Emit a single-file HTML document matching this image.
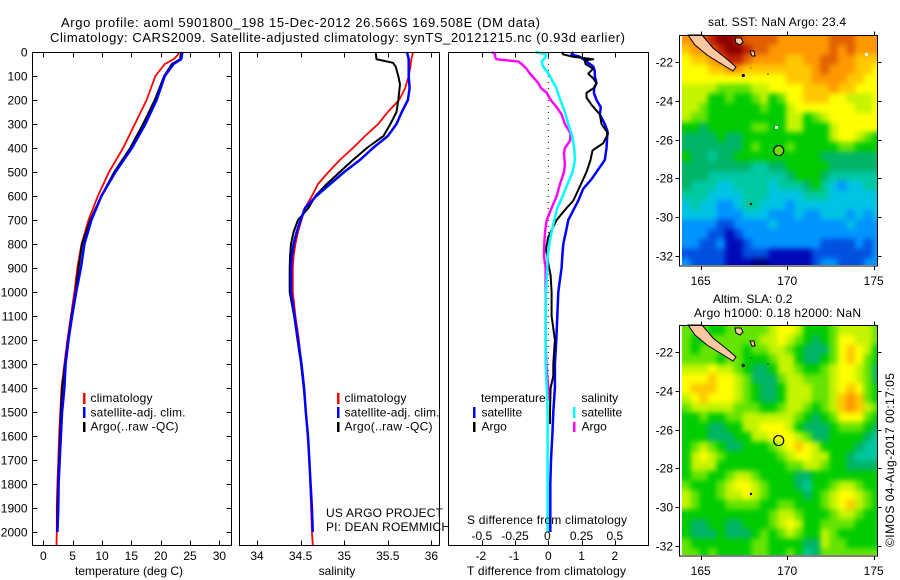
<!DOCTYPE html>
<html>
<head>
<meta charset="utf-8">
<title>Argo profile 5901800_198</title>
<style>
html,body{margin:0;padding:0;background:#fff;}
svg{display:block;}
text{font-family:"Liberation Sans",sans-serif;font-size:12px;fill:#000;}
</style>
</head>
<body>
<svg id="fig" xmlns="http://www.w3.org/2000/svg" width="900" height="580" viewBox="0 0 900 580">
  <defs>
    <filter id="soften" filterUnits="userSpaceOnUse" x="640" y="0" width="260" height="580" color-interpolation-filters="sRGB">
      <feGaussianBlur stdDeviation="2.6"/>
    </filter>
    <clipPath id="clip-sst"><rect x="682" y="35.5" width="195" height="229.5"/></clipPath>
    <clipPath id="clip-sla"><rect x="682" y="325.5" width="195" height="229.5"/></clipPath>
  </defs>
  <rect x="0" y="0" width="900" height="580" fill="#fff"/>
  <g id="maps"></g>
  <g id="profiles"></g>
  <g id="axes"></g>

  <text x="61" y="27" style="font-size:13px" textLength="479" lengthAdjust="spacing">Argo profile: aoml 5901800_198 15-Dec-2012 26.566S 169.508E (DM data)</text>
  <text x="50" y="42" style="font-size:13px" textLength="575" lengthAdjust="spacing">Climatology: CARS2009. Satellite-adjusted climatology: synTS_20121215.nc (0.93d earlier)</text>

  <text x="129" y="575" text-anchor="middle">temperature (deg C)</text>
  <text x="337" y="575" text-anchor="middle">salinity</text>
  <text x="546.5" y="575" text-anchor="middle" textLength="159" lengthAdjust="spacing">T difference from climatology</text>
  <text x="547" y="524" text-anchor="middle" textLength="160" lengthAdjust="spacing">S difference from climatology</text>

  <g>
    <rect x="83" y="393" width="2.5" height="11" fill="#f00"/>
    <rect x="83" y="407" width="2.5" height="11" fill="#00f"/>
    <rect x="83" y="422" width="2.5" height="10" fill="#000"/>
    <text x="90.5" y="402" textLength="62" lengthAdjust="spacing">climatology</text>
    <text x="90.5" y="416.5" textLength="95" lengthAdjust="spacing">satellite-adj. clim.</text>
    <text x="90.5" y="430.5" textLength="88" lengthAdjust="spacing">Argo(..raw -QC)</text>
  </g>
  <g>
    <rect x="337" y="393" width="2.5" height="11" fill="#f00"/>
    <rect x="337" y="407" width="2.5" height="11" fill="#00f"/>
    <rect x="337" y="422" width="2.5" height="10" fill="#000"/>
    <text x="344.5" y="402" textLength="62" lengthAdjust="spacing">climatology</text>
    <text x="344.5" y="416.5" textLength="95" lengthAdjust="spacing">satellite-adj. clim.</text>
    <text x="344.5" y="430.5" textLength="88" lengthAdjust="spacing">Argo(..raw -QC)</text>
  </g>
  <g>
    <text x="481" y="402">temperature</text>
    <text x="481.5" y="416.5">satellite</text>
    <text x="481.5" y="430.5">Argo</text>
    <rect x="473" y="407" width="2.5" height="11" fill="#00f"/>
    <rect x="473" y="422" width="2.5" height="10" fill="#000"/>
    <text x="581.5" y="402">salinity</text>
    <text x="581.5" y="416.5">satellite</text>
    <text x="581.5" y="430.5">Argo</text>
    <rect x="573" y="407" width="2.5" height="11" fill="#0ff"/>
    <rect x="573" y="422" width="2.5" height="10" fill="#f0f"/>
  </g>

  <text x="326" y="517" textLength="117" lengthAdjust="spacing">US ARGO PROJECT</text>
  <text x="326" y="531" textLength="124" lengthAdjust="spacing">PI: DEAN ROEMMICH</text>

  <text x="777" y="26" text-anchor="middle" textLength="138" lengthAdjust="spacing">sat. SST: NaN  Argo: 23.4</text>
  <text x="713" y="303">Altim. SLA: 0.2</text>
  <text x="694" y="317" textLength="167" lengthAdjust="spacing">Argo h1000: 0.18 h2000: NaN</text>
  <text transform="translate(894,547) rotate(-90)" textLength="174" lengthAdjust="spacing">©IMOS 04-Aug-2017 00:17:05</text>
</svg>

<script>
// ---------- temperature panel data (depth in m, deg C) ----------
const tempDepths = [0,10,30,50,100,200,300,400,500,600,700,800,900,1000,1100,1200,1300,1400,1500,1600,1700,1800,1900,2000,2055];
const tempClim   = [23.1,23.0,22.2,20.7,19.1,17.6,15.6,13.6,11.2,9.3,7.7,6.5,5.8,5.3,4.7,4.1,3.6,3.1,2.9,2.7,2.55,2.4,2.3,2.3,2.25];
const argoTempDepths = [0,30,50,100,200,300,400,500,600,700,800,900,1000,1100,1200,1300,1400,1500,1600,1700,1800,1900,2000];
const tempArgo   = [23.5,23.3,21.9,20.6,19.0,17.0,14.8,12.1,9.9,8.0,6.6,6.0,5.5,4.8,4.2,3.7,3.2,3.0,2.85,2.7,2.5,2.4,2.35];
const satTempDepths = [0,30,50,100,200,300,400,500,600,700,800,900,1000,1100,1200,1300,1400,1500,1600,1700,1800,1900,2000];
const tempSat    = [23.7,23.5,22.2,20.7,19.3,17.4,15.1,12.3,9.9,8.2,7.0,6.4,5.6,4.9,4.3,3.8,3.6,3.2,3.0,2.8,2.6,2.55,2.4];

// ---------- salinity panel data ----------
const salClimDepths = [0,30,60,100,150,200,250,300,350,400,450,500,550,600,650,700,750,800,850,900,1000,1100,1200,1300,1400,1500,1600,1700,1800,1900,2000,2055];
const salClim = [35.79,35.77,35.76,35.74,35.70,35.63,35.50,35.39,35.24,35.10,34.95,34.82,34.70,34.63,34.55,34.51,34.47,34.44,34.42,34.41,34.41,34.44,34.48,34.51,34.54,34.56,34.58,34.60,34.61,34.62,34.63,34.64];
const salArgoDepths = [0,30,35,45,60,100,135,200,250,300,350,400,450,500,550,600,650,700,750,800,850,900,1000,1100,1200,1300,1400,1450];
const salArgo = [35.36,35.37,35.43,35.56,35.59,35.62,35.64,35.62,35.60,35.53,35.45,35.26,35.10,34.95,34.80,34.67,34.59,34.47,34.42,34.39,34.38,34.375,34.375,34.425,34.465,34.505,34.535,34.55];
const salSatDepths = [0,30,100,150,200,250,300,350,400,450,500,550,600,650,700,750,800,850,900,1000,1100,1200,1300,1400,1500,1600,1700,1800,1900,2000];
const salSat = [35.72,35.74,35.74,35.75,35.73,35.66,35.60,35.50,35.33,35.18,35.00,34.84,34.68,34.55,34.50,34.455,34.42,34.40,34.39,34.39,34.43,34.47,34.51,34.54,34.56,34.585,34.60,34.615,34.63,34.64];

// ---------- difference panel data ----------
const dTSatDepths = [0,10,20,40,60,80,100,130,150,170,200,230,260,300,330,400,430,450,480,530,570,620,660,700,750,800,850,900,950,1000,1100,1200,1300,1400,1500,1600,1700,1800,2000];
const dTSat = [0.75,0.70,0.95,1.15,1.35,1.40,1.40,1.45,1.38,1.37,1.45,1.58,1.55,1.70,1.78,1.75,1.72,1.70,1.55,1.30,1.05,0.90,0.75,0.60,0.53,0.45,0.42,0.40,0.35,0.30,0.27,0.24,0.20,0.20,0.15,0.12,0.08,0.06,0.06];
const dTArgoDepths = [0,10,20,30,35,50,70,90,110,130,150,170,190,220,260,300,340,380,410,450,500,560,620,650,700,770,820,880,930,1000,1100,1200,1300,1350,1400,1500,1550];
const dTArgo = [0.40,0.45,0.75,1.35,1.10,1.12,1.35,1.20,1.35,1.45,1.37,1.15,1.15,1.30,1.55,1.60,1.80,1.65,1.33,1.27,1.15,0.95,0.75,0.55,0.25,0.00,-0.07,0.00,0.07,0.10,0.10,0.20,0.15,0.15,0.07,0.05,0.05];
const dSSatDepths = [0,10,20,40,60,80,100,150,200,250,300,350,400,450,500,550,600,650,700,750,800,850,900,1000,1100,1200,1300,1400,1450,1500,1600,2000];
const dSSat = [-0.10,-0.018,-0.018,-0.05,-0.04,-0.012,0.012,0.06,0.09,0.125,0.15,0.18,0.195,0.20,0.183,0.145,0.108,0.068,0.045,0.025,0.008,-0.005,-0.007,-0.018,-0.02,-0.02,-0.02,-0.012,-0.007,-0.005,-0.005,-0.005];
const dSArgoDepths = [0,10,20,30,40,50,70,90,110,130,150,170,200,230,260,300,340,370,400,420,470,500,550,600,650,700,750,800,850,900,1000,1100,1200,1300,1400,1450];
const dSArgo = [-0.425,-0.40,-0.40,-0.39,-0.225,-0.20,-0.163,-0.138,-0.105,-0.075,-0.055,-0.012,0.018,0.063,0.10,0.125,0.168,0.163,0.125,0.118,0.125,0.118,0.088,0.063,0.025,-0.012,-0.025,-0.03,-0.033,-0.02,-0.02,-0.02,-0.02,-0.015,0,0];

// ---------- tick labels ----------
const depthTicks = [0,100,200,300,400,500,600,700,800,900,1000,1100,1200,1300,1400,1500,1600,1700,1800,1900,2000];
const tempTicks = [0,5,10,15,20,25,30];
const salTicks = [34,34.5,35,35.5,36];
const tDiffTicks = [-2,-1,0,1,2];
const sDiffTicks = [-0.5,-0.25,0,0.25,0.5];
const lonTicks = [165,170,175];
const latTicks = [-22,-24,-26,-28,-30,-32];

// ---------- map data: colour level per 0.5 degree cell (row = north to south) ----------
const sstLevels = [
[12,12,13,14,15,15,14,13,13,13,13,12,12,12,12,12,12,13,13,13,12,12,12],
[11,12,12,13,14,15,15,14,13,13,12,12,12,12,12,12,12,13,12,13,12,12,12],
[10,11,11,12,13,14,14,13,12,12,12,12,11,11,12,12,13,13,12,12,11,11,11],
[10,10,10,11,11,12,12,11,11,11,11,11,11,11,11,12,13,12,12,12,11,11,10],
[10,10,10,10,10,10,10,10,10,10,10,10,11,11,11,12,12,12,12,11,11,10,10],
[9,9,9,9,8,8,8,8,9,9,10,10,10,10,11,11,11,12,11,11,10,10,10],
[9,9,9,7,7,8,7,7,8,9,7,8,10,10,11,11,11,10,10,9,9,9,10],
[9,9,8,7,7,7,7,7,7,8,7,7,9,10,10,10,10,10,10,10,9,9,10],
[9,8,8,7,7,7,7,7,7,7,7,7,9,9,7,8,9,10,10,10,10,10,10],
[7,7,6,7,7,7,7,7,8,8,7,7,9,9,7,7,7,9,10,10,10,10,10],
[6,6,6,6,7,6,6,7,7,7,7,7,7,7,7,7,7,9,10,10,9,8,7],
[6,6,6,6,6,6,6,7,8,7,7,7,8,7,7,7,7,7,8,8,7,7,7],
[7,6,6,5,6,6,7,7,7,7,7,7,7,7,7,7,6,6,6,6,6,6,6],
[6,6,6,6,6,6,6,6,5,5,6,6,7,7,7,7,7,6,6,6,6,6,6],
[6,6,6,5,5,5,5,5,5,5,5,5,6,7,7,7,6,5,5,5,5,5,5],
[6,5,5,5,4,4,5,5,5,5,4,5,5,5,6,7,5,4,3,4,4,5,5],
[5,5,5,4,4,4,4,5,5,5,4,4,4,4,5,5,5,4,4,4,4,4,4],
[4,5,4,4,3,3,4,5,5,4,4,4,3,4,4,4,4,4,4,4,4,4,4],
[4,4,4,4,3,3,3,4,4,4,3,3,3,4,3,3,4,4,4,3,4,3,4],
[3,3,3,3,2,2,3,3,3,3,4,3,3,3,3,3,3,3,3,4,3,3,3],
[3,3,3,2,2,1,2,3,3,3,3,3,3,3,3,3,3,3,3,3,3,3,3],
[3,3,2,2,3,1,1,2,3,3,3,3,3,3,3,3,2,2,2,2,3,2,3],
[2,2,2,2,2,1,1,2,2,2,1,1,1,1,1,2,2,2,2,2,2,2,3],
[3,2,2,2,2,1,1,1,0,0,1,1,1,1,1,2,3,3,2,2,2,3,3]
];
const slaLevels = [
[8,8,8,7,7,8,8,8,8,8,9,10,10,9,7,7,7,8,9,9,9,9,8],
[8,7,7,8,8,8,8,8,8,9,9,10,9,8,7,6,7,8,10,10,9,9,8],
[8,7,8,8,8,8,8,7,8,8,9,9,8,7,6,6,6,8,10,11,10,9,7],
[8,8,8,8,7,8,8,7,7,7,8,9,9,7,6,6,7,8,10,11,10,8,7],
[9,9,9,10,9,9,8,7,6,6,7,9,9,8,7,7,8,9,10,10,9,8,6],
[10,10,10,11,10,10,9,8,6,6,6,8,9,9,8,8,8,9,10,10,9,8,6],
[10,11,11,11,10,10,9,8,7,6,6,7,9,9,9,8,8,9,10,11,10,8,7],
[9,10,11,10,10,10,9,8,7,6,6,7,9,9,9,8,8,9,11,12,11,8,7],
[8,9,9,9,9,9,8,8,8,7,7,8,9,9,8,7,8,9,11,12,11,9,8],
[7,7,8,7,7,8,8,9,9,9,9,9,9,8,7,6,7,8,10,10,10,8,7],
[7,7,7,6,6,7,7,9,9,10,10,10,9,7,6,6,6,7,8,8,8,7,6],
[7,7,7,6,6,6,7,7,9,9,10,10,10,9,8,6,6,7,7,7,7,6,5],
[7,8,9,8,7,6,6,7,7,7,8,9,10,11,10,9,7,7,7,7,6,5,5],
[7,9,10,9,8,7,7,7,7,7,7,8,9,10,10,9,9,7,7,6,5,5,5],
[7,9,9,9,7,7,7,7,7,7,7,7,8,8,9,9,8,7,7,6,6,6,6],
[7,8,8,7,7,8,9,9,8,7,7,7,7,6,6,7,7,7,7,7,7,7,7],
[8,7,7,7,8,9,10,10,9,8,7,7,7,6,5,7,7,8,9,9,8,7,7],
[9,8,7,7,8,9,9,10,9,8,7,7,7,7,6,7,8,9,10,10,9,8,7],
[9,8,7,7,7,8,8,8,8,7,7,8,8,7,7,7,8,9,10,11,9,8,7],
[7,7,7,7,7,7,7,7,7,7,8,9,9,8,7,7,7,8,9,9,8,7,7],
[7,6,6,7,7,6,6,7,7,7,8,9,10,9,7,7,8,8,8,8,7,7,7],
[7,6,6,6,7,6,6,6,7,8,7,8,9,8,7,7,9,8,7,7,7,7,7],
[8,7,7,7,7,7,7,7,8,8,7,7,7,7,6,6,9,8,8,7,7,7,7],
[8,8,7,8,7,7,7,7,8,8,7,7,8,7,5,6,8,8,8,8,8,8,8]
];
const levelColors = ["#000080","#0008b8","#0050e0","#0094ff","#00c4e4","#00c8a0","#00b468","#00cc00","#64e400","#c4f400","#ffff00","#ffc800","#ff9800","#e06000","#c02000","#8c0000"];
const argoLon = [169.508];
const argoLat = [-26.566];

// ---------- helpers ----------
const NS = "http://www.w3.org/2000/svg";
function mk(parent, tag, attrs, txt){
  const el = document.createElementNS(NS, tag);
  for (const k in attrs) el.setAttribute(k, attrs[k]);
  if (txt !== undefined) el.textContent = txt;
  parent.appendChild(el);
  return el;
}
const axesG = document.getElementById("axes");
const profG = document.getElementById("profiles");
const mapsG = document.getElementById("maps");

// axis functions
const yDepth = d => 52 + 0.24 * d;
const xTemp = t => 43.3 + 5.87 * t;
const xSal = s => 257 + 87.2 * (s - 34);
const xTDiff = t => 548.3 + 33.25 * t;
const xSDiff = s => 548.3 + 133 * s;
const xLon = lon => 700.7 + 17.3 * (lon - 165);
const yLat = (lat, dy) => 62 + dy - 19.4 * (lat + 22);

function drawLine(depths, vals, xf, color, width, name){
  const pts = depths.map((d, i) => xf(vals[i]).toFixed(1) + "," + yDepth(d).toFixed(1)).join(" ");
  const el = mk(profG, "polyline", {points: pts, fill: "none", stroke: color, "stroke-width": width, "stroke-linejoin": "round"});
  
  
}

// series
drawLine(tempDepths, tempClim, xTemp, "#f00", 1.8, "temperature-climatology-line");
drawLine(argoTempDepths, tempArgo, xTemp, "#000", 2, "temperature-argo-line");
drawLine(satTempDepths, tempSat, xTemp, "#00f", 2.5, "temperature-satellite-line");
drawLine(salClimDepths, salClim, xSal, "#f00", 1.8, "salinity-climatology-line");
drawLine(salArgoDepths, salArgo, xSal, "#000", 2, "salinity-argo-line");
drawLine(salSatDepths, salSat, xSal, "#00f", 2.5, "salinity-satellite-line");

const zeroLine = mk(profG, "line", {x1: xTDiff(0), x2: xTDiff(0), y1: yDepth(0), y2: yDepth(2000), stroke: "#000", "stroke-width": 1, "stroke-dasharray": "1 5"});


drawLine(dTSatDepths, dTSat, xTDiff, "#00f", 2.5, "t-difference-satellite-line");
drawLine(dTArgoDepths, dTArgo, xTDiff, "#000", 2, "t-difference-argo-line");
drawLine(dSArgoDepths, dSArgo, xSDiff, "#f0f", 2.4, "s-difference-argo-line");
drawLine(dSSatDepths, dSSat, xSDiff, "#0ff", 2.5, "s-difference-satellite-line");

// panel frames
function frame(x1, x2, y1, y2, name){
  const el = mk(axesG, "rect", {x: x1, y: y1, width: x2 - x1, height: y2 - y1, fill: "none", stroke: "#000", "stroke-width": 1, "shape-rendering": "crispEdges"});
  
  
}
function tick(x1, y1, x2, y2, name){
  const el = mk(axesG, "line", {x1: x1, y1: y1, x2: x2, y2: y2, stroke: "#000", "stroke-width": 1, "shape-rendering": "crispEdges"});
  
  
}
function label(x, y, anchor, str, name){
  const el = mk(axesG, "text", {x: x, y: y, "text-anchor": anchor}, str);
  
  
}
const T = 52.5, B = 545.5;
frame(32.5, 231.5, T, B, "temperature-panel-frame");
frame(239.5, 439.5, T, B, "salinity-panel-frame");
frame(448.5, 648.5, T, B, "difference-panel-frame");

depthTicks.forEach(d => {
  const y = Math.round(yDepth(d)) + 0.5;
  if (d > 0) {
    tick(32.5, y, 37.5, y, "depth-tick-left");
    tick(226.5, y, 231.5, y, "depth-tick-right");
  }
  label(27.5, y + 4, "end", String(d), "depth-tick-label");
});
function xTicks(vals, xf, name){
  vals.forEach(v => {
    const x = Math.round(xf(v)) + 0.5;
    tick(x, T, x, T + 5, name + "-tick-top");
    tick(x, B, x, B - 5, name + "-tick-bottom");
  });
}
xTicks(tempTicks, xTemp, "temperature");
xTicks(salTicks, xSal, "salinity");
xTicks(tDiffTicks, xTDiff, "t-difference");
tempTicks.forEach(v => label(xTemp(v), 560, "middle", String(v), "temperature-tick-label"));
salTicks.forEach(v => label(xSal(v), 560, "middle", String(v), "salinity-tick-label"));
tDiffTicks.forEach(v => label(xTDiff(v) - (v < 0 ? 1 : 0), 560, "middle", String(v), "t-difference-tick-label"));
sDiffTicks.forEach(v => label(xSDiff(v) - (v === 0 ? 1 : 0), 540, "middle", String(v), "s-difference-tick-label"));

// maps
const landNC = [[688,35],[702,35],[713,48],[728,60],[736,67],[733,71],[720,63],[707,55],[695,45]];
const landL1 = [[735,38],[741,38],[743,42],[740,45],[736,43]];
const landL2 = [[750,51],[754,51],[755,56],[752,56]];
function drawMap(rows, dy, key, circleFill){
  const g = mk(mapsG, "g", {});
  
  
  const clip = mk(g, "g", {"clip-path": "url(#clip-" + key + ")"});
  
  
  const image = mk(clip, "g", {filter: "url(#soften)"});
  
  
  const lon0 = 163.92, lat0 = -20.62, step = 0.5, pad = 14;
  const imgR = 877 + pad, imgB = yLat(-32.46, dy) + pad;
  rows.forEach((row, r) => {
    row.forEach((v, c) => {
      let x = xLon(lon0 + c * step), y = yLat(lat0 - r * step, dy);
      let x2 = xLon(lon0 + (c + 1) * step), y2 = yLat(lat0 - (r + 1) * step, dy);
      if (c === 0) x -= pad;
      if (r === 0) y -= pad;
      if (c === row.length - 1) x2 = imgR;
      if (r === rows.length - 1) y2 = imgB;
      const cell = mk(image, "rect", {x: x.toFixed(2), y: y.toFixed(2), width: (x2 - x + 0.3).toFixed(2), height: (y2 - y + 0.3).toFixed(2), fill: levelColors[v]});
      
      
    });
  });
  [landNC, landL1, landL2].forEach(poly => {
    const land = mk(g, "polygon", {points: poly.map(p => p[0] + "," + (p[1] + dy)).join(" "), fill: "#ffc8a0", stroke: "#000", "stroke-width": 1});
    
    
  });
  [[743.3, 75.5, 1.6], [768, 74, 0.6], [751, 68, 0.5], [751, 204, 1.2]].forEach(p => {
    const isl = mk(g, "circle", {cx: p[0], cy: p[1] + dy, r: p[2], fill: "#000"});
    
    
  });
  const fr = mk(g, "rect", {x: 679.5, y: 35.5 + dy, width: 198, height: 230.5, fill: "none", stroke: "#000", "stroke-width": 1, "shape-rendering": "crispEdges"});
  
  
  lonTicks.forEach(l => {
    const x = Math.round(xLon(l)) + 0.5;
    const t1 = mk(g, "line", {x1: x, x2: x, y1: 266 + dy, y2: 270 + dy, stroke: "#000", "shape-rendering": "crispEdges"});
    
    
    const t2 = mk(g, "line", {x1: x, x2: x, y1: 35.5 + dy, y2: 31.5 + dy, stroke: "#000", "shape-rendering": "crispEdges"});
    
    
    const lb = mk(g, "text", {x: xLon(l), y: 285 + dy, "text-anchor": "middle"}, String(l));
    
    
  });
  latTicks.forEach(l => {
    const y = Math.round(yLat(l, dy)) + 0.5;
    const t1 = mk(g, "line", {x1: 679.5, x2: 675.5, y1: y, y2: y, stroke: "#000", "shape-rendering": "crispEdges"});
    
    
    const t2 = mk(g, "line", {x1: 877.5, x2: 881.5, y1: y, y2: y, stroke: "#000", "shape-rendering": "crispEdges"});
    
    
    const lb = mk(g, "text", {x: 673, y: y + 4, "text-anchor": "end"}, String(l));
    
    
  });
  const circ = mk(g, "circle", {cx: xLon(argoLon[0]), cy: yLat(argoLat[0], dy), r: 5, fill: circleFill, stroke: "#000", "stroke-width": 1.2});
  
  
}
drawMap(sstLevels, 0, "sst", "#70e000");
drawMap(slaLevels, 290, "sla", "none");

// missing-data pixels on the SST map
[[775, 126], [865, 53]].forEach(p => {
  const hole = mk(mapsG, "rect", {x: p[0], y: p[1], width: 3, height: 3, fill: "#fff"});
  
  
});
</script>
</body>
</html>
